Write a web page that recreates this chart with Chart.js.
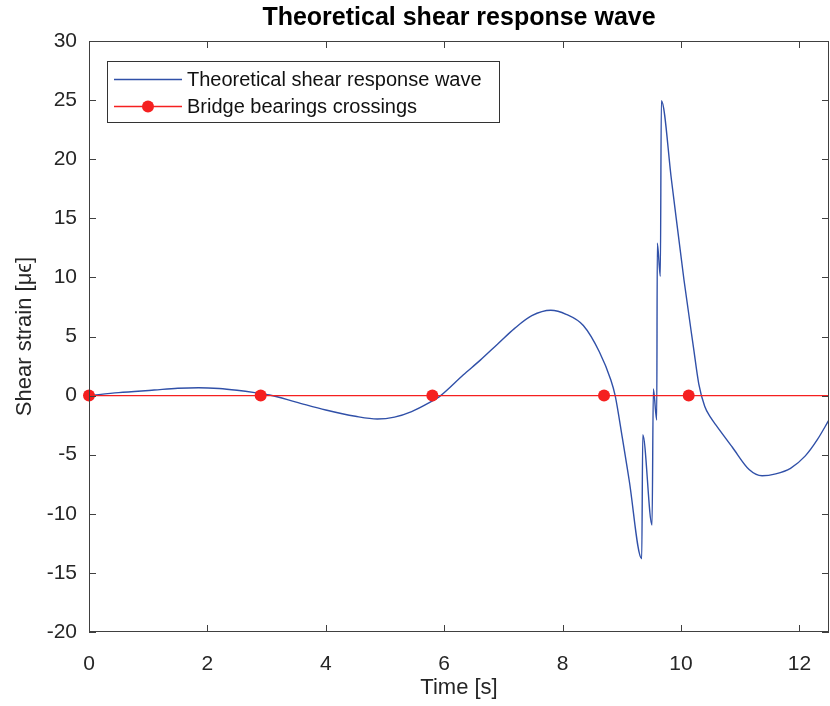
<!DOCTYPE html>
<html lang="en">
<head>
    <meta charset="UTF-8">
    <title>Theoretical shear response wave</title>
    <script src="https://cdn.jsdelivr.net/npm/chart.js@4.4.1/dist/chart.umd.min.js"></script>
    <style>
        html,body{margin:0;padding:0;background:#fff;}
        #wrap{width:830px;height:706px;}
    </style>
</head>
<body>
    <div id="wrap"><canvas id="chart" width="830" height="706"></canvas></div>

    <script>
        // values
        const timeS=[0,0.5,1.1,1.5,1.85,2.2,2.5,2.8,3.05,3.5,4.0,4.5,4.87,5.16,5.45,5.74,5.94,6.32,6.61,6.9,7.19,7.48,7.8,8.06,8.35,8.62,8.815,8.888,9.01,9.124,9.337,9.354,9.511,9.533,9.59,9.60,9.651,9.668,9.84,10.05,10.21,10.30,10.40,10.50,10.585,10.865,11.15,11.37,11.6,11.85,12.1,12.3,12.5];
        const strainUE=[0,0.25,0.47,0.62,0.67,0.6,0.45,0.25,0.05,-0.55,-1.22,-1.75,-1.98,-1.82,-1.35,-0.62,0,1.74,3.0,4.35,5.69,6.76,7.22,6.88,5.93,3.71,1.32,0,-3.6,-7.14,-13.8,-3.3,-10.95,0.56,-2.06,12.9,10.1,24.95,18.2,9.8,4.1,1.0,-0.9,-1.85,-2.45,-4.35,-6.25,-6.78,-6.62,-6.15,-5.1,-3.75,-2.06];

        // bearing crossings, last entry only carries the line to the edge
        const crossingTimes=[0,2.9,5.8,8.7,10.13,12.5];
        const crossingStrain=[0,0,0,0,0,0];
        const crossingMarker=[6,6,6,6,6,0];

        const seriesNames=["Theoretical shear response wave","Bridge bearings crossings"];
        const blue="#3050a8";
        const red="#f52020";
        const axisColor="#262626";
        const fontFamily="Arial, 'Liberation Sans', sans-serif";

        // box round the plot with ticks pointing inwards
        const framePlugin={
            id:"frame",
            afterDatasetsDraw(chart){
                const {ctx,chartArea:a,scales}=chart;
                ctx.save();
                ctx.strokeStyle="#404040";
                ctx.lineWidth=1;
                ctx.strokeRect(a.left+0.5,a.top+0.5,a.right-a.left-1,a.bottom-a.top-1);
                const len=7;
                ctx.beginPath();
                for(const t of scales.x.ticks){
                    const px=Math.round(scales.x.getPixelForValue(t.value))+0.5;
                    ctx.moveTo(px,a.bottom);ctx.lineTo(px,a.bottom-len);
                    ctx.moveTo(px,a.top);ctx.lineTo(px,a.top+len);
                }
                for(const t of scales.y.ticks){
                    const py=Math.round(scales.y.getPixelForValue(t.value))+0.5;
                    ctx.moveTo(a.left,py);ctx.lineTo(a.left+len,py);
                    ctx.moveTo(a.right,py);ctx.lineTo(a.right-len,py);
                }
                ctx.stroke();
                ctx.restore();
            }
        };

        // matlab style legend in the upper left corner
        const legendPlugin={
            id:"boxLegend",
            afterDraw(chart){
                const {ctx,chartArea:a}=chart;
                const x=a.left+18, y=a.top+20, w=392, h=61;
                ctx.save();
                ctx.fillStyle="#fff";
                ctx.fillRect(x,y,w,h);
                ctx.strokeStyle="#333";
                ctx.lineWidth=1;
                ctx.strokeRect(x+0.5,y+0.5,w,h);
                ctx.font="20px "+fontFamily;
                ctx.textBaseline="middle";
                chart.data.datasets.forEach((ds,i)=>{
                    const ry=y+18.5+i*27;
                    ctx.strokeStyle=ds.borderColor;
                    ctx.lineWidth=ds.borderWidth;
                    ctx.beginPath();
                    ctx.moveTo(x+7,ry);ctx.lineTo(x+75,ry);
                    ctx.stroke();
                    if(i===1){
                        ctx.fillStyle=ds.pointBackgroundColor;
                        ctx.beginPath();
                        ctx.arc(x+41,ry,6,0,Math.PI*2);
                        ctx.fill();
                    }
                    ctx.fillStyle="#111";
                    ctx.fillText(ds.label,x+80,ry+1);
                });
                ctx.restore();
            }
        };

        const chart=new Chart(document.getElementById("chart"),{
            type:"line",
            data:{
                datasets:[
                    {
                        label:seriesNames[0],
                        data:timeS.map((t,i)=>({x:t,y:strainUE[i]})),
                        borderColor:blue,
                        borderWidth:1.4,
                        pointRadius:0,
                        cubicInterpolationMode:"monotone",
                        order:2
                    },
                    {
                        label:seriesNames[1],
                        data:crossingTimes.map((t,i)=>({x:t,y:crossingStrain[i]})),
                        borderColor:red,
                        borderWidth:1.3,
                        pointRadius:crossingMarker,
                        pointBackgroundColor:red,
                        pointBorderColor:red,
                        pointBorderWidth:0,
                        clip:8,
                        order:1
                    }
                ]
            },
            options:{
                responsive:false,
                animation:false,
                layout:{autoPadding:false,padding:{top:0,right:1,left:0,bottom:0}},
                plugins:{
                    legend:{display:false},
                    tooltip:{enabled:false},
                    title:{
                        display:true,
                        text:"Theoretical shear response wave",
                        fullSize:false,
                        color:"#000",
                        font:{family:fontFamily,size:25,weight:"bold"},
                        padding:{top:3,bottom:8}
                    }
                },
                scales:{
                    x:{
                        type:"linear",
                        min:0,
                        max:12.5,
                        grid:{display:false},
                        border:{display:false},
                        ticks:{
                            stepSize:2,
                            includeBounds:false,
                            color:axisColor,
                            padding:12,
                            maxRotation:0,
                            font:{family:fontFamily,size:21}
                        },
                        title:{
                            display:true,
                            text:"Time [s]",
                            color:axisColor,
                            font:{family:fontFamily,size:22},
                            padding:{top:0,bottom:5}
                        },
                        afterFit(scale){
                            scale.height=74;
                            scale.paddingLeft=0;
                            scale.paddingRight=0;
                        }
                    },
                    y:{
                        min:-20,
                        max:30,
                        grid:{display:false},
                        border:{display:false},
                        ticks:{
                            stepSize:5,
                            color:axisColor,
                            padding:4,
                            font:{family:fontFamily,size:21}
                        },
                        title:{
                            display:true,
                            text:"Shear strain [μϵ]",
                            color:axisColor,
                            font:{family:fontFamily,size:22},
                            padding:{top:12,bottom:0}
                        },
                        afterFit(scale){scale.width=89;}
                    }
                }
            },
            plugins:[framePlugin,legendPlugin]
        });
    </script>
</body>
</html>
